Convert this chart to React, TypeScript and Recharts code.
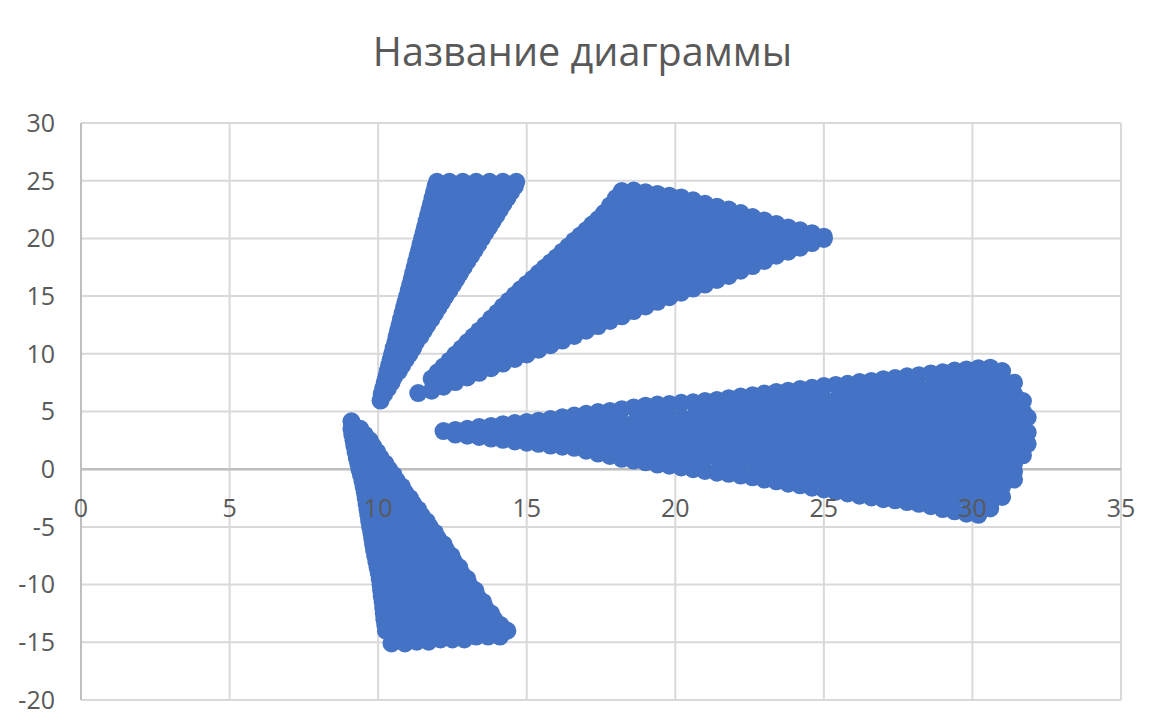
import { ScatterChart, Scatter, XAxis, YAxis, CartesianGrid, ReferenceLine } from 'recharts'

const xTicks = [0, 5, 10, 15, 20, 25, 30, 35]
const yTicks = [-20, -15, -10, -5, 0, 5, 10, 15, 20, 25, 30]

// each row is [y, x, x, ...]
const topWedgeRows = [
  [5.95, 10.08],
  [6.5, 10.12, 10.2],
  [7, 10.17, 10.33],
  [7.5, 10.22, 10.45],
  [8, 10.27, 10.54],
  [8.5, 10.32, 10.7],
  [9, 10.37, 10.81],
  [9.5, 10.42, 10.93],
  [10, 10.47, 10.76, 11.06],
  [10.5, 10.52, 11.18],
  [11, 10.58, 10.9, 11.27],
  [11.5, 10.62, 11.42],
  [12, 10.67, 11.1, 11.54],
  [12.5, 10.72, 11.66],
  [13, 10.77, 11.1, 11.45, 11.79],
  [13.5, 10.82, 11.91],
  [14, 10.87, 11.25, 11.65, 12.03],
  [14.5, 10.92, 12.15],
  [15, 10.98, 11.4, 11.85, 12.27],
  [15.5, 11.03, 12.4],
  [16, 11.08, 11.45, 11.8, 12.15, 12.52],
  [16.5, 11.13, 12.64],
  [17, 11.18, 11.55, 11.95, 12.35, 12.76],
  [17.5, 11.23, 12.88],
  [18, 11.28, 11.7, 12.15, 12.55, 13],
  [18.5, 11.33, 13.13],
  [19, 11.38, 11.75, 12.1, 12.5, 12.9, 13.25],
  [19.5, 11.43, 13.37],
  [20, 11.48, 11.9, 12.3, 12.7, 13.1, 13.49],
  [20.5, 11.53, 13.61],
  [21, 11.58, 12, 12.45, 12.9, 13.3, 13.74],
  [21.5, 11.63, 13.86],
  [22, 11.68, 12.1, 12.55, 13, 13.5, 13.98],
  [22.5, 11.73, 14.1],
  [23, 11.78, 12.2, 12.65, 13.05, 13.45, 13.85, 14.22],
  [23.5, 11.83, 14.35],
  [24, 11.88, 12.3, 12.75, 13.2, 13.6, 14.05, 14.47],
  [24.5, 11.93, 14.6],
  [24.9, 11.98, 12.4, 12.85, 13.3, 13.75, 14.2, 14.65],
]

// each row is [y, x, x, ...]
const bottomWedgeRows = [
  [4.15, 9.1],
  [3.5, 9.1, 9.4],
  [3, 9.13, 9.55],
  [2.5, 9.17, 9.72],
  [2, 9.2, 9.5, 9.83],
  [1.5, 9.24, 9.97],
  [1, 9.28, 9.68, 10.08],
  [0.5, 9.33, 10.24],
  [0, 9.37, 9.7, 10.05, 10.36],
  [-0.5, 9.42, 10.52],
  [-1, 9.47, 9.85, 10.25, 10.63],
  [-1.5, 9.51, 10.8],
  [-2, 9.55, 10, 10.45, 10.9],
  [-2.5, 9.58, 11.07],
  [-3, 9.61, 10, 10.4, 10.8, 11.18],
  [-3.5, 9.64, 11.35],
  [-4, 9.67, 10.1, 10.55, 11, 11.46],
  [-4.5, 9.7, 11.63],
  [-5, 9.73, 10.15, 10.6, 11.05, 11.4, 11.74],
  [-5.5, 9.77, 11.91],
  [-6, 9.8, 10.25, 10.7, 11.1, 11.55, 12.01],
  [-6.5, 9.83, 12.2],
  [-7, 9.86, 10.3, 10.75, 11.2, 11.6, 12, 12.29],
  [-7.5, 9.9, 12.47],
  [-8, 9.94, 10.4, 10.85, 11.3, 11.7, 12.15, 12.55],
  [-8.5, 9.98, 12.73],
  [-9, 10.02, 10.45, 10.9, 11.35, 11.8, 12.15, 12.5, 12.8],
  [-9.5, 10.05, 13],
  [-10, 10.08, 10.5, 10.95, 11.4, 11.85, 12.3, 12.7, 13.06],
  [-10.5, 10.1, 13.27],
  [-11, 10.12, 10.55, 11, 11.45, 11.9, 12.25, 12.6, 12.95, 13.33],
  [-11.5, 10.15, 13.53],
  [-12, 10.17, 10.6, 11.05, 11.5, 11.95, 12.4, 12.85, 13.25, 13.6],
  [-12.5, 10.19, 13.8],
  [-13, 10.21, 10.65, 11.1, 11.55, 12, 12.45, 12.85, 13.2, 13.55, 13.9],
  [-13.5, 10.24, 14.12],
  [-14, 10.26, 10.7, 11.15, 11.6, 12.05, 12.5, 12.95, 13.4, 13.85, 14.35],
  [-14.5, 13.3, 13.7, 14.1],
  [-14.75, 12.1, 12.5, 12.9],
  [-14.95, 11.3, 11.7],
  [-15.1, 10.45, 10.9],
]

// each column is [x, y, y, ...]
const middleWedgeColumns = [
  [11.35, 6.6],
  [11.8, 7.85, 6.8],
  [12, 8.4],
  [12.2, 8.9, 8, 7.15],
  [12.4, 9.4],
  [12.6, 9.95, 9, 8, 7.55],
  [12.8, 10.45],
  [13, 11, 10, 9, 7.95],
  [13.2, 11.5],
  [13.4, 12, 11, 10, 9, 8.35],
  [13.6, 12.5],
  [13.8, 13.05, 12, 11, 10, 9.4, 8.75],
  [14, 13.55],
  [14.2, 14.1, 13, 12, 11, 10, 9.15],
  [14.4, 14.6],
  [14.6, 15.1, 14, 13, 12, 11, 10, 9.55],
  [14.8, 15.6],
  [15, 16.05, 15, 14, 13, 12, 11, 9.95],
  [15.2, 16.5],
  [15.4, 17, 16, 15, 14, 13, 12, 11, 10.35],
  [15.6, 17.45],
  [15.8, 17.9, 17, 16, 15, 14, 13, 12, 11.4, 10.75],
  [16, 18.35],
  [16.2, 18.85, 18, 17, 16, 15, 14, 13, 12, 11.15],
  [16.4, 19.3],
  [16.6, 19.8, 19, 18, 17, 16, 15, 14, 13, 12, 11.55],
  [16.8, 20.25],
  [17, 20.7, 20, 19, 18, 17, 16, 15, 14, 13, 12],
  [17.2, 21.2],
  [17.4, 21.65, 21, 20, 19, 18, 17, 16, 15, 14, 13, 12.4],
  [17.6, 22.2],
  [17.8, 22.85, 22, 21, 20, 19, 18, 17, 16, 15, 14, 12.85],
  [18, 23.5],
  [18.2, 24.1, 23, 22, 21, 20, 19, 18, 17, 16, 15, 14, 13.25],
  [18.6, 24.15, 23, 22, 21, 20, 19, 18, 17, 16, 15, 14.3, 13.7],
  [19, 24, 23, 22, 21, 20, 19, 18, 17, 16, 15, 14.1],
  [19.4, 23.85, 23, 22, 21, 20, 19, 18, 17, 16, 15, 14.5],
  [19.8, 23.7, 22.5, 21.5, 20.5, 19.5, 18.5, 17.5, 16.5, 15.5, 14.9],
  [20.2, 23.55, 22.5, 21.5, 20.5, 19.5, 18.5, 17.5, 16.5, 15.3],
  [20.6, 23.3, 22.4, 21.5, 20.5, 19.5, 18.5, 17.5, 16.5, 15.65],
  [21, 23, 22, 21, 20, 19, 18, 17, 16],
  [21.4, 22.75, 22, 21, 20, 19, 18, 17, 16.4],
  [21.8, 22.5, 21.5, 20.5, 19.5, 18.5, 17.5, 16.75],
  [22.2, 22.2, 21, 20, 19, 18, 17.2],
  [22.6, 21.85, 21, 20, 19, 18, 17.6],
  [23, 21.55, 20.5, 19.5, 18.8, 18.05],
  [23.4, 21.25, 20.3, 19.4, 18.5],
  [23.8, 20.95, 20, 18.85],
  [24.2, 20.7, 19.9, 19.2],
  [24.6, 20.45, 19.6],
  [25, 20.15, 19.95],
]

// each column is [x, y, y, ...]
const rightWedgeColumns = [
  [12.2, 3.3],
  [12.6, 3.4, 3],
  [13, 3.5, 2.9],
  [13.4, 3.65, 2.8],
  [13.8, 3.75, 3.2, 2.65],
  [14.2, 3.9, 3.2, 2.55],
  [14.6, 4, 3.2, 2.4],
  [15, 4.1, 3.2, 2.3],
  [15.4, 4.2, 3.2, 2.2],
  [15.8, 4.35, 3.2, 2.05],
  [16.2, 4.5, 3.5, 2.7, 1.95],
  [16.6, 4.65, 3.7, 2.8, 1.85],
  [17, 4.8, 3.8, 2.7, 1.6],
  [17.4, 4.95, 3.9, 2.9, 2, 1.35],
  [17.8, 5.05, 4, 3, 2, 1.15],
  [18.2, 5.2, 4, 3, 2, 0.9],
  [18.6, 5.35, 4, 3, 2, 0.75],
  [19, 5.5, 4.5, 3.5, 2.5, 1.5, 0.6],
  [19.4, 5.6, 4.5, 3.5, 2.5, 1.5, 0.4],
  [19.8, 5.65, 4.5, 3.5, 2.5, 1.5, 0.8, 0.3],
  [20.2, 5.75, 4.5, 3.5, 2.5, 1.5, 0.8, 0.15],
  [20.6, 5.8, 4.5, 3.5, 2.5, 1.5, 0.8, 0],
  [21, 5.9, 5, 4, 3, 2, 1, -0.15],
  [21.4, 6, 5, 4, 3, 2, 1, -0.3],
  [21.8, 6.15, 5.5, 4.6, 3.6, 2.6, 1.6, 0.6, -0.4],
  [22.2, 6.3, 5.5, 4.6, 3.6, 2.6, 1.6, 0.6, -0.55],
  [22.6, 6.4, 5.5, 4.6, 3.6, 2.6, 1.6, 0.6, -0.7],
  [23, 6.55, 5.5, 4.5, 3.5, 2.5, 1.5, 0.5, -0.2, -0.9],
  [23.4, 6.7, 6, 5, 4, 3, 2, 1, 0, -1.05],
  [23.8, 6.8, 6, 5, 4, 3, 2, 1, 0, -1.25],
  [24.2, 6.95, 6, 5, 4, 3, 2, 1, 0, -1, -1.4],
  [24.6, 7.05, 6, 5, 4, 3, 2, 1, 0, -1, -1.6],
  [25, 7.2, 6, 5, 4, 3, 2, 1, 0, -1, -1.75],
  [25.4, 7.3, 6, 5, 4, 3, 2, 1, 0, -1, -1.95],
  [25.8, 7.4, 6.5, 5.5, 4.5, 3.5, 2.5, 1.5, 0.5, -0.5, -1.5, -2.1],
  [26.2, 7.55, 6.5, 5.5, 4.5, 3.5, 2.5, 1.5, 0.5, -0.5, -1.5, -2.3],
  [26.6, 7.65, 6.5, 5.5, 4.5, 3.5, 2.5, 1.5, 0.5, -0.5, -1.5, -2.45],
  [27, 7.8, 7, 6, 5, 4, 3, 2, 1, 0, -1, -2, -2.6],
  [27.4, 7.9, 7, 6, 5, 4, 3, 2, 1, 0, -1, -2, -2.7],
  [27.8, 8.05, 7, 6, 5, 4, 3, 2, 1, 0, -1, -2, -2.85],
  [28.2, 8.15, 7, 6, 5, 4, 3, 2, 1, 0, -1, -2, -3],
  [28.6, 8.3, 7, 6, 5, 4, 3, 2, 1, 0, -1, -2, -3.2],
  [29, 8.4, 7.5, 6.5, 5.5, 4.5, 3.5, 2.5, 1.5, 0.5, -0.5, -1.5, -2.5, -3.45],
  [29.4, 8.55, 7.5, 6.5, 5.5, 4.5, 3.5, 2.5, 1.5, 0.5, -0.5, -1.5, -2.5, -3.65],
  [29.8, 8.65, 7.5, 6.5, 5.5, 4.5, 3.5, 2.5, 1.5, 0.5, -0.5, -1.5, -2.5, -3.85],
  [30.2, 8.75, 8, 7, 6, 5, 4, 3, 2, 1, 0, -1, -2, -3, -3.95],
  [30.6, 8.8, 8, 7, 6, 5, 4, 3, 2, 1, 0, -1, -2, -3, -3.4],
  [31, 8.5, 7.5, 6.5, 5.5, 4.5, 3.5, 2.5, 1.5, 0.5, -0.5, -1.5, -2.4],
  [31.4, 7.5, 6.5, 5.5, 4.5, 3.5, 2.5, 1.5, 0.5, -0.2, -0.9],
  [31.7, 5.9, 5, 4, 3, 2, 1.2],
  [31.86, 4.5, 3.2, 2.2],
]

const rowsToPoints = (rows: number[][]) =>
  rows.flatMap(([y, ...xs]) => xs.map((x) => ({ x, y })))
const columnsToPoints = (columns: number[][]) =>
  columns.flatMap(([x, ...ys]) => ys.map((y) => ({ x, y })))

const scatterData = [
  ...rowsToPoints(topWedgeRows),
  ...rowsToPoints(bottomWedgeRows),
  ...columnsToPoints(middleWedgeColumns),
  ...columnsToPoints(rightWedgeColumns),
]

const textColor = '#595959'
const fontFamily = '"Open Sans", "Noto Sans", sans-serif'

const renderDot = (props: any) => <circle cx={props.cx} cy={props.cy} r={9} fill="#4472c4" />

// value axis labels sit just under the zero line, not under the plot
const renderXTick = (props: any) => (
  <text x={props.x} y={517} textAnchor="middle" fontSize={25} fill={textColor} fontFamily={fontFamily}>
    {props.payload.value}
  </text>
)

export default function App() {
  return (
    <div style={{ position: 'absolute', left: 0, top: 0, width: 1152, height: 720, background: '#fff' }}>
      <div
        style={{
          position: 'absolute',
          left: 0,
          width: 1165,
          top: 26,
          textAlign: 'center',
          fontFamily,
          fontSize: 39.6,
          color: textColor,
          lineHeight: '50px',
        }}
      >
        Название диаграммы
      </div>
      <ScatterChart width={1152} height={720} margin={{ top: 123, right: 31, bottom: 0, left: 21 }}>
        <CartesianGrid stroke="#d9d9d9" strokeWidth={2} />
        <XAxis
          type="number"
          dataKey="x"
          domain={[0, 35]}
          ticks={xTicks}
          height={20}
          axisLine={false}
          tickLine={false}
          tick={renderXTick}
          interval={0}
        />
        <YAxis
          type="number"
          dataKey="y"
          domain={[-20, 30]}
          ticks={yTicks}
          width={60}
          axisLine={{ stroke: '#bfbfbf', strokeWidth: 2 }}
          tickLine={false}
          tickMargin={20}
          tick={{ fontSize: 25, fill: textColor, fontFamily }}
          interval={0}
        />
        <ReferenceLine y={0} stroke="#bfbfbf" strokeWidth={2.5} />
        <Scatter data={scatterData} shape={renderDot} isAnimationActive={false} />
      </ScatterChart>
    </div>
  )
}
